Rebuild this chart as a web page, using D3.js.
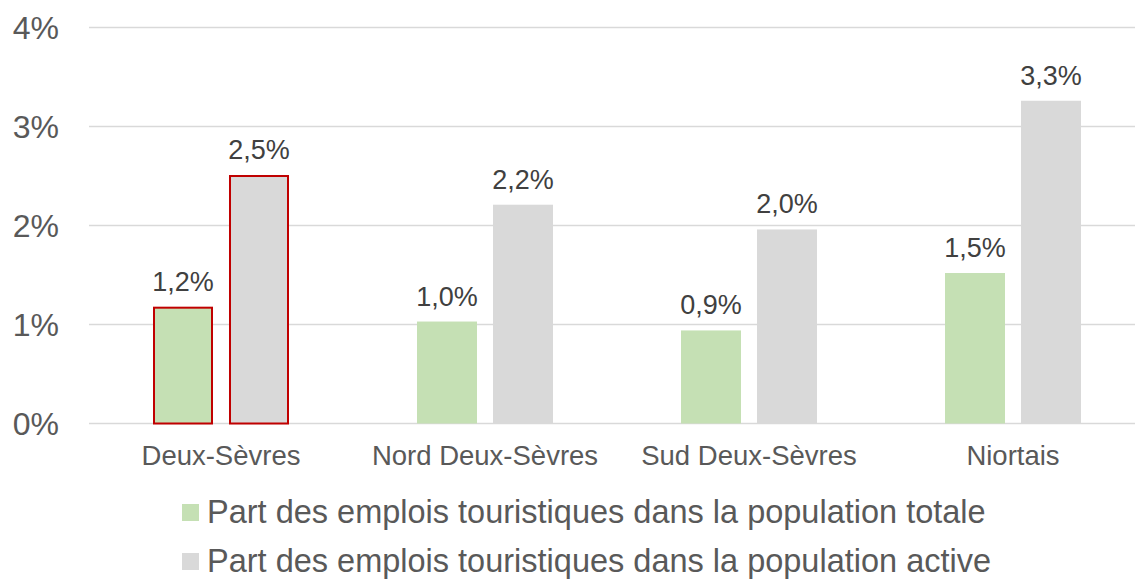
<!DOCTYPE html>
<html>
<head>
<meta charset="utf-8">
<script src="https://cdn.jsdelivr.net/npm/d3@7"></script>
<style>
  body { margin: 0; background: #fff; }
  svg { display: block; font-family: "Liberation Sans", Arial, sans-serif; }
</style>
</head>
<body>
<svg id="chart"></svg>
<script>
const categories = ["Deux-Sèvres", "Nord Deux-Sèvres", "Sud Deux-Sèvres", "Niortais"]
const seriesNames = [
  "Part des emplois touristiques dans la population totale",
  "Part des emplois touristiques dans la population active"
]
const totale = [1.18, 1.03, 0.94, 1.52]
const active = [2.51, 2.21, 1.96, 3.26]
const yTicks = [0, 1, 2, 3, 4]
const highlighted = ["Deux-Sèvres"]

const colors = ["#c5e0b4", "#d9d9d9"]
const width = 1135, height = 579

const svg = d3.select("#chart")
  .attr("width", width)
  .attr("height", height)

const x0 = d3.scaleBand()
  .domain(categories)
  .range([89, 1145])

const x1 = d3.scaleBand()
  .domain([0, 1])
  .range([64, 200])
  .paddingInner(0.2105)

const y = d3.scaleLinear()
  .domain([0, 4])
  .range([423.5, 27.5])

// gridlines
svg.append("g")
  .selectAll("line")
  .data(yTicks)
  .enter().append("line")
  .attr("x1", 89)
  .attr("x2", width)
  .attr("y1", d => y(d))
  .attr("y2", d => y(d))
  .attr("stroke", "#d9d9d9")
  .attr("stroke-width", 1.5)

// y tick labels
svg.append("g")
  .selectAll("text")
  .data(yTicks)
  .enter().append("text")
  .attr("x", 59)
  .attr("y", d => y(d))
  .attr("dy", "0.36em")
  .attr("text-anchor", "end")
  .attr("font-size", 32)
  .attr("fill", "#595959")
  .text(d => d + "%")

const rows = categories.map((c, i) => ({cat: c, values: [totale[i], active[i]]}))

const group = svg.append("g")
  .selectAll("g")
  .data(rows)
  .enter().append("g")
  .attr("transform", d => `translate(${x0(d.cat)},0)`)

const bars = group.selectAll("rect")
  .data(d => d.values.map((v, s) => ({v, s, cat: d.cat})))
  .enter()

bars.append("rect")
  .attr("x", d => x1(d.s) + (highlighted.includes(d.cat) ? 1 : 0))
  .attr("y", d => y(d.v) + (highlighted.includes(d.cat) ? 1 : 0))
  .attr("width", d => x1.bandwidth() - (highlighted.includes(d.cat) ? 2 : 0))
  .attr("height", d => y(0) - y(d.v) - (highlighted.includes(d.cat) ? 1 : 0))
  .attr("fill", d => colors[d.s])
  .attr("stroke", d => highlighted.includes(d.cat) ? "#c00000" : "none")
  .attr("stroke-width", 2)

// data labels
bars.append("text")
  .attr("x", d => x1(d.s) + x1.bandwidth() / 2)
  .attr("y", d => y(d.v) - 16)
  .attr("text-anchor", "middle")
  .attr("font-size", 27)
  .attr("fill", "#404040")
  .text(d => d.v.toFixed(1).replace(".", ",") + "%")

// category labels
svg.append("g")
  .selectAll("text")
  .data(categories)
  .enter().append("text")
  .attr("x", d => x0(d) + x0.bandwidth() / 2)
  .attr("y", 465)
  .attr("text-anchor", "middle")
  .attr("font-size", 27.5)
  .attr("fill", "#595959")
  .text(d => d)

// legend
const legend = svg.append("g")
  .selectAll("g")
  .data(seriesNames)
  .enter().append("g")
  .attr("transform", (d, i) => `translate(182,${504 + i * 49})`)

legend.append("rect")
  .attr("width", 17)
  .attr("height", 17)
  .attr("fill", (d, i) => colors[i])

legend.append("text")
  .attr("x", 25)
  .attr("y", 19)
  .attr("font-size", 32.5)
  .attr("fill", "#595959")
  .text(d => d)
</script>
</body>
</html>
